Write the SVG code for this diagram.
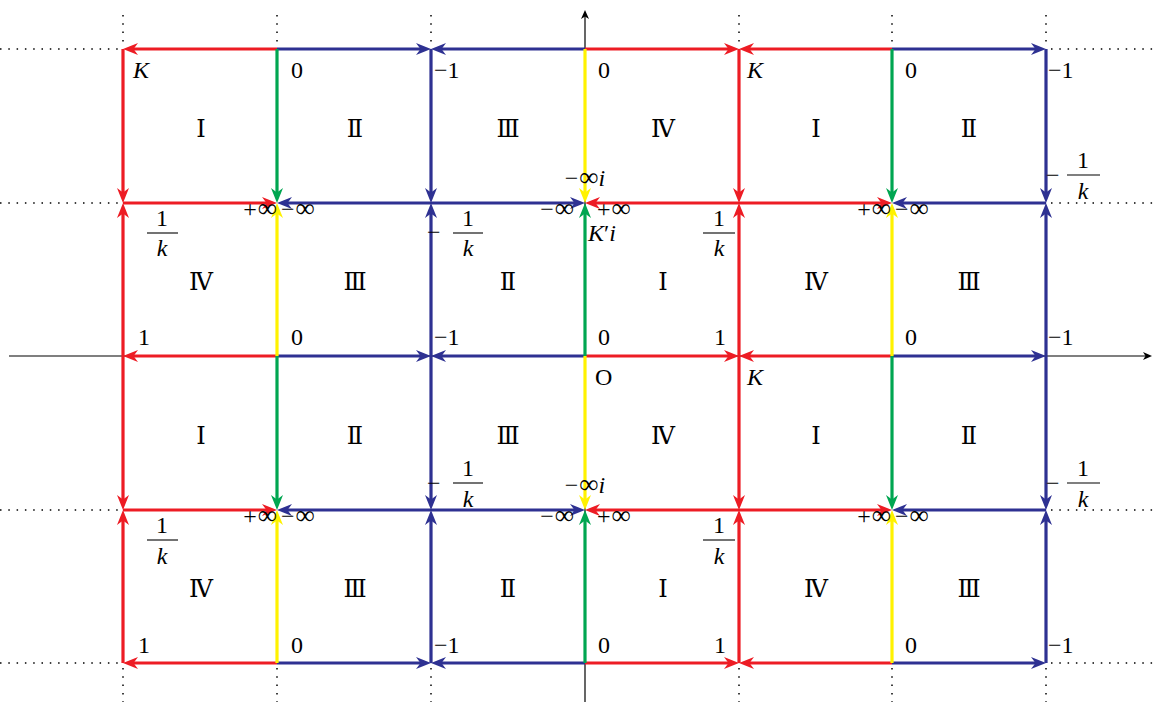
<svg xmlns="http://www.w3.org/2000/svg" width="1153" height="702" viewBox="0 0 1153 702">
<style>
.seg{fill:none;stroke-width:3.2}
.r{stroke:#ED1C24;marker-end:url(#mr)}
.b{stroke:#2E3192;marker-end:url(#mb)}
.g{stroke:#00A651;marker-end:url(#mg)}
.y{stroke:#FFF200;marker-end:url(#my)}
.dot{stroke:#000;stroke-width:1.5;stroke-dasharray:1.5 6.8;fill:none}
.ax{stroke:#000;stroke-width:1.2;fill:none;marker-end:url(#mk)}
.t{font-family:"Liberation Serif","DejaVu Serif",serif;font-size:24px;fill:#000}
.c{font-family:"Liberation Serif","DejaVu Serif","Noto Sans CJK JP",serif;font-size:24px;fill:#000;text-anchor:middle}
.i{font-style:italic}
.m{text-anchor:middle}
.e{text-anchor:end}
.n{font-size:27px;font-weight:300}
.fb{stroke:#000;stroke-width:1.1}
</style>
<defs>
<path id="ah" d="M0,0 L-15,-6 L-10.5,0 L-15,6 Z"/>
<marker id="mr" markerUnits="userSpaceOnUse" refX="-5" refY="0" markerWidth="20" markerHeight="14" orient="auto" overflow="visible"><use href="#ah" fill="#ED1C24"/></marker>
<marker id="mb" markerUnits="userSpaceOnUse" refX="-5" refY="0" markerWidth="20" markerHeight="14" orient="auto" overflow="visible"><use href="#ah" fill="#2E3192"/></marker>
<marker id="mg" markerUnits="userSpaceOnUse" refX="-5" refY="0" markerWidth="20" markerHeight="14" orient="auto" overflow="visible"><use href="#ah" fill="#00A651"/></marker>
<marker id="my" markerUnits="userSpaceOnUse" refX="-5" refY="0" markerWidth="20" markerHeight="14" orient="auto" overflow="visible"><use href="#ah" fill="#FFF200"/></marker>
<marker id="mk" markerUnits="userSpaceOnUse" refX="-4" refY="0" markerWidth="12" markerHeight="10" orient="auto" overflow="visible"><path d="M0,0 L-9,-4 L-6.5,0 L-9,4 Z" fill="#000"/></marker>
</defs>
<rect width="1153" height="702" fill="#fff"/>

<g id="dotted">
<path class="dot" d="M0,49H118M0,203H118M0,510H118M0,663H118M1051,49H1153M1051,203H1153M1051,510H1153M1051,663H1153"/>
<path class="dot" d="M123,15V45M277,15V45M431,15V45M739,15V45M892,15V45M1046,15V45M123,668V702M277,668V702M431,668V702M739,668V702M892,668V702M1046,668V702"/>
</g>

<g id="axes">
<line class="ax" x1="9" y1="356" x2="1148" y2="356"/>
<line class="ax" x1="585" y1="702" x2="585" y2="14"/>
</g>

<g id="connectors">
<line class="seg r" x1="277" y1="49" x2="128" y2="49"/>
<line class="seg b" x1="277" y1="49" x2="426" y2="49"/>
<line class="seg b" x1="585" y1="49" x2="436" y2="49"/>
<line class="seg r" x1="585" y1="49" x2="734" y2="49"/>
<line class="seg r" x1="892" y1="49" x2="744" y2="49"/>
<line class="seg b" x1="892" y1="49" x2="1041" y2="49"/>
<line class="seg r" x1="277" y1="356" x2="128" y2="356"/>
<line class="seg b" x1="277" y1="356" x2="426" y2="356"/>
<line class="seg b" x1="585" y1="356" x2="436" y2="356"/>
<line class="seg r" x1="585" y1="356" x2="734" y2="356"/>
<line class="seg r" x1="892" y1="356" x2="744" y2="356"/>
<line class="seg b" x1="892" y1="356" x2="1041" y2="356"/>
<line class="seg r" x1="277" y1="663" x2="128" y2="663"/>
<line class="seg b" x1="277" y1="663" x2="426" y2="663"/>
<line class="seg b" x1="585" y1="663" x2="436" y2="663"/>
<line class="seg r" x1="585" y1="663" x2="734" y2="663"/>
<line class="seg r" x1="892" y1="663" x2="744" y2="663"/>
<line class="seg b" x1="892" y1="663" x2="1041" y2="663"/>
<line class="seg r" x1="123" y1="203" x2="272" y2="203"/>
<line class="seg b" x1="431" y1="203" x2="282" y2="203"/>
<line class="seg b" x1="431" y1="203" x2="580" y2="203"/>
<line class="seg r" x1="739" y1="203" x2="590" y2="203"/>
<line class="seg r" x1="739" y1="203" x2="887" y2="203"/>
<line class="seg b" x1="1046" y1="203" x2="897" y2="203"/>
<line class="seg r" x1="123" y1="510" x2="272" y2="510"/>
<line class="seg b" x1="431" y1="510" x2="282" y2="510"/>
<line class="seg b" x1="431" y1="510" x2="580" y2="510"/>
<line class="seg r" x1="739" y1="510" x2="590" y2="510"/>
<line class="seg r" x1="739" y1="510" x2="887" y2="510"/>
<line class="seg b" x1="1046" y1="510" x2="897" y2="510"/>
<line class="seg r" x1="123" y1="49" x2="123" y2="198"/>
<line class="seg g" x1="277" y1="49" x2="277" y2="198"/>
<line class="seg b" x1="431" y1="49" x2="431" y2="198"/>
<line class="seg y" x1="585" y1="49" x2="585" y2="198"/>
<line class="seg r" x1="739" y1="49" x2="739" y2="198"/>
<line class="seg g" x1="892" y1="49" x2="892" y2="198"/>
<line class="seg b" x1="1046" y1="49" x2="1046" y2="198"/>
<line class="seg r" x1="123" y1="356" x2="123" y2="505"/>
<line class="seg g" x1="277" y1="356" x2="277" y2="505"/>
<line class="seg b" x1="431" y1="356" x2="431" y2="505"/>
<line class="seg y" x1="585" y1="356" x2="585" y2="505"/>
<line class="seg r" x1="739" y1="356" x2="739" y2="505"/>
<line class="seg g" x1="892" y1="356" x2="892" y2="505"/>
<line class="seg b" x1="1046" y1="356" x2="1046" y2="505"/>
<line class="seg r" x1="123" y1="356" x2="123" y2="208"/>
<line class="seg y" x1="277" y1="356" x2="277" y2="208"/>
<line class="seg b" x1="431" y1="356" x2="431" y2="208"/>
<line class="seg g" x1="585" y1="356" x2="585" y2="208"/>
<line class="seg r" x1="739" y1="356" x2="739" y2="208"/>
<line class="seg y" x1="892" y1="356" x2="892" y2="208"/>
<line class="seg b" x1="1046" y1="356" x2="1046" y2="208"/>
<line class="seg r" x1="123" y1="663" x2="123" y2="515"/>
<line class="seg y" x1="277" y1="663" x2="277" y2="515"/>
<line class="seg b" x1="431" y1="663" x2="431" y2="515"/>
<line class="seg g" x1="585" y1="663" x2="585" y2="515"/>
<line class="seg r" x1="739" y1="663" x2="739" y2="515"/>
<line class="seg y" x1="892" y1="663" x2="892" y2="515"/>
<line class="seg b" x1="1046" y1="663" x2="1046" y2="515"/>
</g>

<g id="cells">
<text class="c" x="201" y="137">Ⅰ</text><text class="c" x="355" y="137">Ⅱ</text><text class="c" x="508" y="137">Ⅲ</text><text class="c" x="663" y="137">Ⅳ</text><text class="c" x="816" y="137">Ⅰ</text><text class="c" x="969" y="137">Ⅱ</text>
<text class="c" x="201" y="290">Ⅳ</text><text class="c" x="355" y="290">Ⅲ</text><text class="c" x="508" y="290">Ⅱ</text><text class="c" x="663" y="290">Ⅰ</text><text class="c" x="816" y="290">Ⅳ</text><text class="c" x="969" y="290">Ⅲ</text>
<text class="c" x="201" y="444">Ⅰ</text><text class="c" x="355" y="444">Ⅱ</text><text class="c" x="508" y="444">Ⅲ</text><text class="c" x="663" y="444">Ⅳ</text><text class="c" x="816" y="444">Ⅰ</text><text class="c" x="969" y="444">Ⅱ</text>
<text class="c" x="201" y="597">Ⅳ</text><text class="c" x="355" y="597">Ⅲ</text><text class="c" x="508" y="597">Ⅱ</text><text class="c" x="663" y="597">Ⅰ</text><text class="c" x="816" y="597">Ⅳ</text><text class="c" x="969" y="597">Ⅲ</text>
</g>

<g id="labels-row0">
<text class="t i" x="133" y="78">K</text>
<text class="t" x="291" y="78">0</text>
<text class="t" x="434" y="78">−1</text>
<text class="t" x="598" y="78">0</text>
<text class="t i" x="747" y="78">K</text>
<text class="t" x="905" y="78">0</text>
<text class="t" x="1048" y="78">−1</text>
</g>

<g id="labels-row2">
<text class="t" x="138" y="345">1</text>
<text class="t" x="291" y="345">0</text>
<text class="t" x="434" y="345">−1</text>
<text class="t" x="598" y="345">0</text>
<text class="t" x="714" y="345">1</text>
<text class="t" x="595" y="385">O</text>
<text class="t i" x="747" y="385">K</text>
<text class="t" x="905" y="345">0</text>
<text class="t" x="1048" y="345">−1</text>
</g>

<g id="labels-row4">
<text class="t" x="138" y="653">1</text>
<text class="t" x="291" y="653">0</text>
<text class="t" x="434" y="653">−1</text>
<text class="t" x="598" y="653">0</text>
<text class="t" x="714" y="653">1</text>
<text class="t" x="905" y="653">0</text>
<text class="t" x="1048" y="653">−1</text>
</g>

<g id="labels-row1">
<text class="t m" x="162" y="226">1</text><line class="fb" x1="147" y1="233" x2="178" y2="233"/><text class="t m i" x="162" y="256">k</text>
<text class="t e" x="277" y="217">+<tspan class="n" dx="1">∞</tspan></text><text class="t" x="281" y="217">−<tspan class="n" dx="1">∞</tspan></text>
<text class="t" x="427" y="240">−</text><text class="t m" x="468" y="226">1</text><line class="fb" x1="453" y1="233" x2="483" y2="233"/><text class="t m i" x="468" y="256">k</text>
<text class="t m" x="585" y="186">−<tspan class="n" dx="1">∞</tspan><tspan class="i">i</tspan></text>
<text class="t e" x="574" y="217">−<tspan class="n" dx="1">∞</tspan></text><text class="t" x="597" y="217">+<tspan class="n" dx="1">∞</tspan></text>
<text class="t" x="588" y="241"><tspan class="i">K</tspan>′<tspan class="i">i</tspan></text>
<text class="t m" x="719" y="226">1</text><line class="fb" x1="703" y1="233" x2="735" y2="233"/><text class="t m i" x="719" y="256">k</text>
<text class="t e" x="891" y="217">+<tspan class="n" dx="1">∞</tspan></text><text class="t" x="895" y="217">−<tspan class="n" dx="1">∞</tspan></text>
<text class="t" x="1046" y="183">−</text><text class="t m" x="1083" y="168">1</text><line class="fb" x1="1067" y1="175" x2="1100" y2="175"/><text class="t m i" x="1083" y="199">k</text>
</g>

<g id="labels-row3">
<text class="t m" x="162" y="533">1</text><line class="fb" x1="147" y1="540" x2="178" y2="540"/><text class="t m i" x="162" y="564">k</text>
<text class="t e" x="277" y="524">+<tspan class="n" dx="1">∞</tspan></text><text class="t" x="281" y="524">−<tspan class="n" dx="1">∞</tspan></text>
<text class="t" x="427" y="491">−</text><text class="t m" x="468" y="476">1</text><line class="fb" x1="453" y1="483" x2="483" y2="483"/><text class="t m i" x="468" y="507">k</text>
<text class="t m" x="585" y="493">−<tspan class="n" dx="1">∞</tspan><tspan class="i">i</tspan></text>
<text class="t e" x="574" y="524">−<tspan class="n" dx="1">∞</tspan></text><text class="t" x="597" y="524">+<tspan class="n" dx="1">∞</tspan></text>
<text class="t m" x="719" y="533">1</text><line class="fb" x1="703" y1="540" x2="735" y2="540"/><text class="t m i" x="719" y="564">k</text>
<text class="t e" x="891" y="524">+<tspan class="n" dx="1">∞</tspan></text><text class="t" x="895" y="524">−<tspan class="n" dx="1">∞</tspan></text>
<text class="t" x="1046" y="491">−</text><text class="t m" x="1083" y="476">1</text><line class="fb" x1="1067" y1="483" x2="1100" y2="483"/><text class="t m i" x="1083" y="507">k</text>
</g>
</svg>
